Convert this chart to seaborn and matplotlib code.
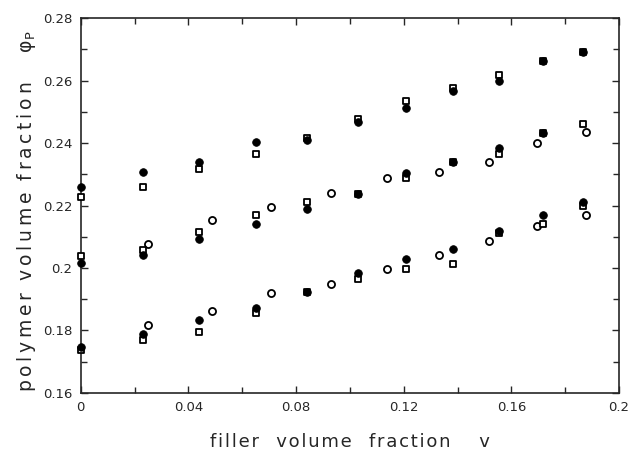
import numpy as np
import pandas as pd
import matplotlib
matplotlib.use("Agg")
import matplotlib.pyplot as plt
import seaborn as sns
from matplotlib.ticker import MultipleLocator, FuncFormatter

# ---- data ----
x_main = [0.0, 0.023, 0.044, 0.065, 0.084, 0.103, 0.121, 0.1385, 0.1555, 0.1717, 0.1866]
x_circ = [0.0251, 0.0488, 0.0708, 0.0929, 0.1137, 0.1330, 0.1518, 0.1697, 0.1879]

top_filled = [0.2258, 0.2306, 0.2340, 0.2404, 0.2410, 0.2467, 0.2514, 0.2568, 0.2599, 0.2663, 0.2691]
top_square = [0.2228, 0.2258, 0.2316, 0.2364, 0.2415, 0.2478, 0.2535, 0.2577, 0.2619, 0.2663, 0.2691]

mid_filled = [0.2017, 0.2041, 0.2092, 0.2140, 0.2190, 0.2236, 0.2303, 0.2340, 0.2385, 0.2433, np.nan]
mid_square = [0.2037, 0.2057, 0.2115, 0.2171, 0.2212, 0.2236, 0.2287, 0.2338, 0.2365, 0.2433, 0.2460]
mid_circle = [0.2076, 0.2155, 0.2196, 0.2239, 0.2287, 0.2308, 0.2340, 0.2399, 0.2434]

bot_filled = [0.1745, 0.1789, 0.1832, 0.1873, 0.1923, 0.1984, 0.2027, 0.2060, 0.2118, 0.2169, 0.2210]
bot_square = [0.1738, 0.1768, 0.1795, 0.1854, 0.1923, 0.1963, 0.1998, 0.2011, 0.2112, 0.2142, 0.2199]
bot_circle = [0.1816, 0.1862, 0.1920, 0.1950, 0.1995, 0.2041, 0.2086, 0.2135, 0.2169]

x_label_words = ["filler", "volume", "fraction", "v"]
y_label_words = ["polymer", "volume", "fraction"]

sns.set_style("ticks")
plt.rcParams['font.family'] = ['DejaVu Sans']
plt.rcParams['mathtext.fontset'] = 'dejavusans'

fig = plt.figure(figsize=(6.31, 4.54), dpi=100)
ax = fig.add_axes([0.1279, 0.135, 0.981 - 0.1279, 0.9597 - 0.135])

sq_df = pd.DataFrame({"x": x_main * 3, "y": top_square + mid_square + bot_square})
fc_df = pd.DataFrame({"x": x_main * 3, "y": top_filled + mid_filled + bot_filled})
oc_df = pd.DataFrame({"x": x_circ * 2, "y": mid_circle + bot_circle})

sns.scatterplot(data=oc_df, x="x", y="y", ax=ax, marker="o", s=26,
                facecolor="white", edgecolor="black", linewidth=1.3, clip_on=False, zorder=3)
sns.scatterplot(data=sq_df, x="x", y="y", ax=ax, marker="s", s=22,
                facecolor="white", edgecolor="black", linewidth=1.3, clip_on=False, zorder=3)
sns.scatterplot(data=fc_df, x="x", y="y", ax=ax, marker="o", s=30,
                color="black", edgecolor="black", linewidth=0.6, clip_on=False, zorder=4)

ax.set_xlim(0, 0.2)
ax.set_ylim(0.16, 0.28)
ax.xaxis.set_major_locator(MultipleLocator(0.04))
ax.xaxis.set_minor_locator(MultipleLocator(0.02))
ax.yaxis.set_major_locator(MultipleLocator(0.02))
ax.yaxis.set_minor_locator(MultipleLocator(0.01))
fmt = FuncFormatter(lambda v, p: f"{v:.2f}".rstrip("0").rstrip(".") if abs(v) > 1e-9 else "0")
ax.xaxis.set_major_formatter(fmt)
ax.yaxis.set_major_formatter(fmt)
ax.tick_params(which="both", direction="in", top=True, right=True, width=1, labelsize=9.5)
ax.tick_params(which="major", length=5, pad=6)
ax.tick_params(which="minor", length=4)
for s in ax.spines.values():
    s.set_visible(True)
    s.set_linewidth(1.2)

hair = "\u200a"
thin = "\u2009"
def spaced(word, sep):
    return sep.join(word)

xl = "   ".join(spaced(w, hair) for w in x_label_words[:3]) + "     " + x_label_words[3]
yl = "  ".join(spaced(w, thin) for w in y_label_words) + "     φ$_{\\mathrm{P}}$"
ax.set_xlabel(xl, fontsize=13, labelpad=14)
ax.set_ylabel(yl, fontsize=13.5)
ax.yaxis.set_label_coords(-0.079, 0.485)

fig.savefig("out.png", dpi=100)
